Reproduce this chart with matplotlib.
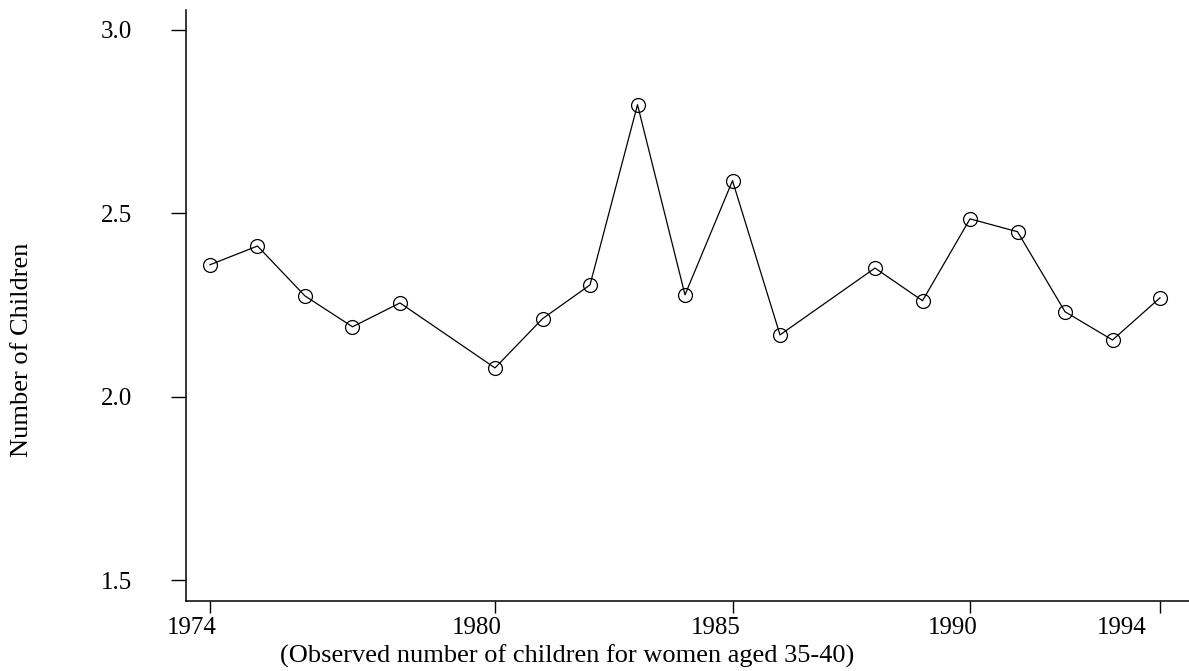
import matplotlib
matplotlib.use("Agg")
import matplotlib.pyplot as plt
import matplotlib.transforms as mtransforms

years = [1974, 1975, 1976, 1977, 1978, 1980, 1981, 1982, 1983, 1984, 1985, 1986,
         1988, 1989, 1990, 1991, 1992, 1993, 1994]
children = [2.36, 2.411, 2.275, 2.191, 2.256, 2.079, 2.213, 2.305, 2.796, 2.278, 2.589, 2.169,
            2.351, 2.262, 2.485, 2.450, 2.232, 2.155, 2.270]
xticks = [1974, 1980, 1985, 1990, 1994]
yticks = [1.5, 2.0, 2.5, 3.0]
yticklabels = ["1.5", "2.0", "2.5", "3.0"]

plt.rcParams['font.family'] = ['Liberation Serif', 'DejaVu Serif']

W, H = 1189, 671
fig = plt.figure(figsize=(W / 100, H / 100), dpi=100)
ax = fig.add_axes([186 / W, 1 - 601 / H, (W - 186) / W, (601 - 10) / H])

ax.plot(years, children, color='black', linewidth=0.9, marker='o', markersize=10,
        markerfacecolor='none', markeredgecolor='black', markeredgewidth=0.9)

ax.set_xlim(1973.495, 1994.61)
ax.set_ylim(1.444, 3.054)
ax.set_xticks(xticks)
ax.set_xticklabels([str(t) for t in xticks])
ax.set_yticks(yticks)
ax.set_yticklabels(yticklabels)

for s in ['top', 'right']:
    ax.spines[s].set_visible(False)
for s in ['left', 'bottom']:
    ax.spines[s].set_linewidth(1.1)

ax.tick_params(axis='y', length=11, width=1.0, pad=28, labelsize=18)
ax.tick_params(axis='x', length=8.5, width=1.0, pad=3, labelsize=18)

# reference tick labels sit slightly left of their ticks
shifts_px = [-18, -18, -17, -17, -38]
for lab, dx in zip(ax.get_xticklabels(), shifts_px):
    lab.set_transform(lab.get_transform() +
                      mtransforms.ScaledTranslation(dx / 100, 0, fig.dpi_scale_trans))

fig.text(567 / W, 1 - 656 / H, "(Observed number of children for women aged 35-40)",
         ha='center', va='center', fontsize=19)
fig.text(22 / W, 1 - 350 / H, "Number of Children", rotation=90,
         ha='center', va='center', fontsize=19)

fig.savefig("out.png", dpi=100)
